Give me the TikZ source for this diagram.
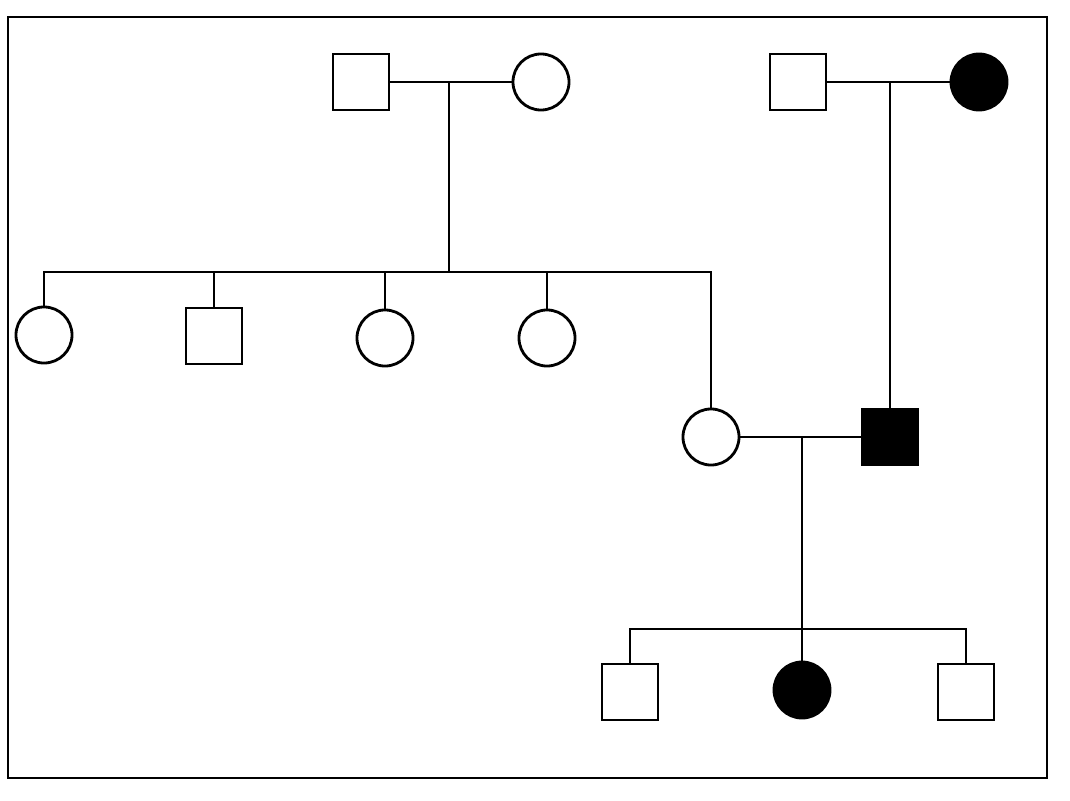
\documentclass[tikz,border=0pt]{standalone}
\begin{document}
\begin{tikzpicture}[x=0.01cm,y=-0.01cm,
  male/.style={draw,thick,minimum size=0.56cm,inner sep=0pt},
  female/.style={draw,thick,circle,minimum size=0.56cm,inner sep=0pt},
  aff/.style={fill=black}]
  \useasboundingbox (0,0) rectangle (1070,800);
  % Border
  \draw (8,17) rectangle (1047,778);
  % First generation
  \node[male] (gf1) at (361,82) {};
  \node[female] (gm1) at (541,82) {};
  \node[male] (gf2) at (798,82) {};
  \node[female,aff] (gm2) at (979,82) {};
  % Second generation
  \node[female] (c1) at (44,335) {};
  \node[male] (c2) at (214,336) {};
  \node[female] (c3) at (385,338) {};
  \node[female] (c4) at (547,338) {};
  \node[female] (mo) at (711,437) {};
  \node[male,aff] (fa) at (890,437) {};
  % Third generation
  \node[male] (k1) at (630,692) {};
  \node[female,aff] (k2) at (802,690) {};
  \node[male] (k3) at (966,692) {};
  \begin{scope}[thick]
    \draw (gf1) -- (gm1);
    \draw (gf2) -- (gm2);
    \coordinate (m1) at (449,82);
    \coordinate (s1) at (449,272);
    \draw (m1) -- (s1);
    \draw (c1) |- (s1) -| (c2);
    \draw (s1) -| (c3);
    \draw (s1) -| (c4);
    \draw (s1) -| (mo);
    \draw (fa) -- (890,82);
    \draw (mo) -- (fa);
    \coordinate (m2) at (802,437);
    \coordinate (s2) at (802,629);
    \draw (m2) -- (k2);
    \draw (k1) |- (s2) -| (k3);
  \end{scope}
\end{tikzpicture}
\end{document}
